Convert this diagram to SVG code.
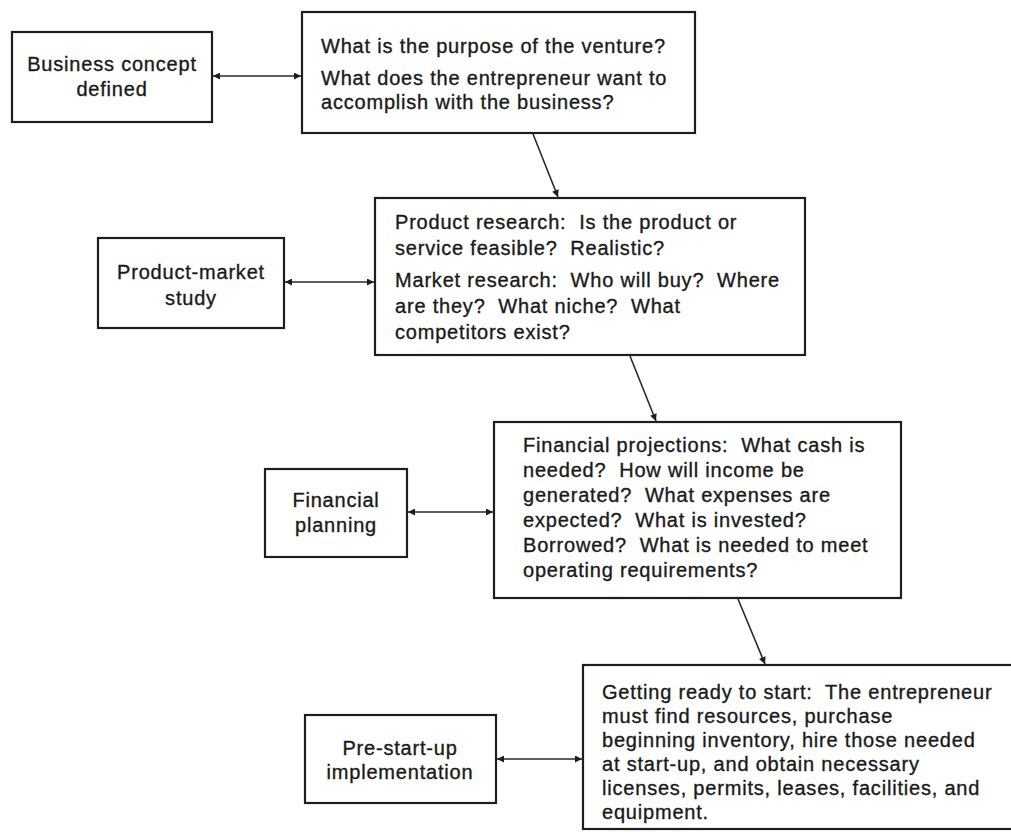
<svg xmlns="http://www.w3.org/2000/svg" width="1011" height="836" viewBox="0 0 1011 836">
<defs>
<marker id="ah" viewBox="0 0 10 10" refX="10" refY="5" markerWidth="11" markerHeight="7" markerUnits="userSpaceOnUse" orient="auto-start-reverse">
<path d="M0,0 L10,5 L0,10 Z" fill="#1e1e1e"/>
</marker>
</defs>
<style>
rect{fill:#fff;stroke:#1e1e1e;stroke-width:2.2}
text{font-family:"Liberation Sans",Arial,sans-serif;font-size:20px;fill:#1a1a1a;stroke:#1a1a1a;stroke-width:0.35;letter-spacing:0.8px;white-space:pre}
.c{text-anchor:middle}
.ln{stroke:#2a2a2a;stroke-width:1.6;fill:none}
</style>
<rect x="0" y="0" width="1011" height="836" style="stroke:none;fill:#fff"/>
<g id="connectors">
<line class="ln" x1="213" y1="76" x2="301" y2="76" marker-start="url(#ah)" marker-end="url(#ah)"/>
<line class="ln" x1="533" y1="134" x2="558" y2="197" marker-end="url(#ah)"/>
<line class="ln" x1="285" y1="282" x2="374" y2="282" marker-start="url(#ah)" marker-end="url(#ah)"/>
<line class="ln" x1="630" y1="356" x2="656" y2="421" marker-end="url(#ah)"/>
<line class="ln" x1="408" y1="512" x2="493" y2="512" marker-start="url(#ah)" marker-end="url(#ah)"/>
<line class="ln" x1="738" y1="599" x2="765" y2="664" marker-end="url(#ah)"/>
<line class="ln" x1="497" y1="759" x2="582" y2="759" marker-start="url(#ah)" marker-end="url(#ah)"/>
</g>
<g id="business-concept">
<rect x="12" y="32" width="200" height="90"/>
<text class="c" x="112" y="71">Business concept</text>
<text class="c" x="112" y="96">defined</text>
</g>
<g id="purpose">
<rect x="302" y="12" width="393" height="121"/>
<text x="321" y="53">What is the purpose of the venture?</text>
<text x="321" y="85">What does the entrepreneur want to</text>
<text x="321" y="109">accomplish with the business?</text>
</g>
<g id="product-market-study">
<rect x="98" y="238" width="186" height="90"/>
<text class="c" x="191" y="279">Product-market</text>
<text class="c" x="191" y="305">study</text>
</g>
<g id="research">
<rect x="375" y="198" width="430" height="157"/>
<text x="395" y="229">Product research:  Is the product or</text>
<text x="395" y="255">service feasible?  Realistic?</text>
<text x="395" y="287">Market research:  Who will buy?  Where</text>
<text x="395" y="313">are they?  What niche?  What</text>
<text x="395" y="339">competitors exist?</text>
</g>
<g id="financial-planning">
<rect x="265" y="469" width="142" height="88"/>
<text class="c" x="336" y="507">Financial</text>
<text class="c" x="336" y="532">planning</text>
</g>
<g id="financial-projections">
<rect x="494" y="422" width="407" height="176"/>
<text x="523" y="452">Financial projections:  What cash is</text>
<text x="523" y="477">needed?  How will income be</text>
<text x="523" y="502">generated?  What expenses are</text>
<text x="523" y="527">expected?  What is invested?</text>
<text x="523" y="552">Borrowed?  What is needed to meet</text>
<text x="523" y="577">operating requirements?</text>
</g>
<g id="pre-start-up">
<rect x="305" y="715" width="191" height="88"/>
<text class="c" x="400" y="755">Pre-start-up</text>
<text class="c" x="400" y="779">implementation</text>
</g>
<g id="getting-ready">
<rect x="583" y="665" width="440" height="164"/>
<text x="602" y="699">Getting ready to start:  The entrepreneur</text>
<text x="602" y="723">must find resources, purchase</text>
<text x="602" y="747">beginning inventory, hire those needed</text>
<text x="602" y="771">at start-up, and obtain necessary</text>
<text x="602" y="795">licenses, permits, leases, facilities, and</text>
<text x="602" y="819">equipment.</text>
</g>
</svg>
